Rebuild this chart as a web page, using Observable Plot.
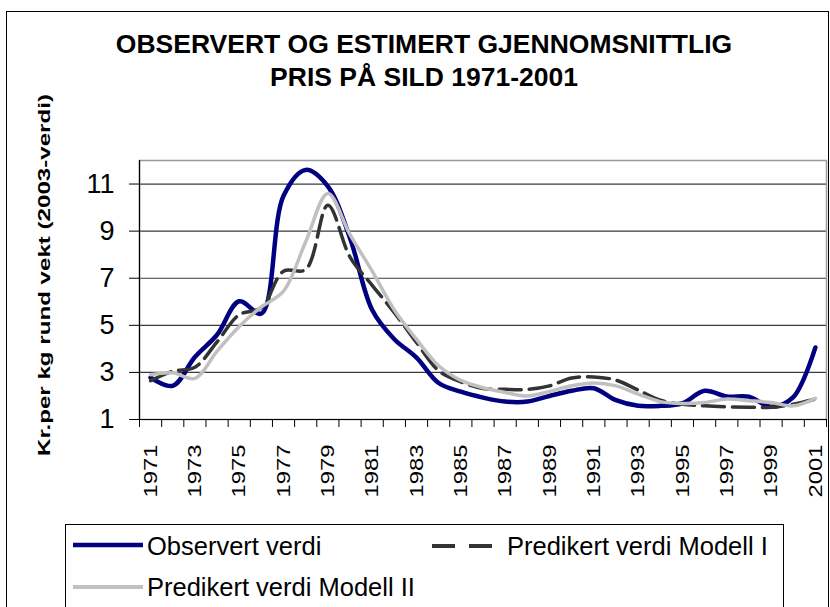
<!DOCTYPE html>
<html>
<head>
<meta charset="utf-8">
<script src="https://cdn.jsdelivr.net/npm/d3@7"></script>
<script src="https://cdn.jsdelivr.net/npm/@observablehq/plot@0.6"></script>
<style>
  html, body { margin: 0; padding: 0; background: #fff; }
  #chart { position: relative; width: 830px; height: 607px; overflow: hidden; background: #fff;
           font-family: "Liberation Sans", Arial, sans-serif; }
  #plot { position: absolute; left: 0; top: 0; }
  #overlay { position: absolute; left: 0; top: 0; pointer-events: none; }
</style>
</head>
<body>
<div id="chart">
  <div id="plot"></div>
  <svg id="overlay" width="830" height="607"></svg>
</div>
<script>
// ---------- data ----------
const years = [1971,1972,1973,1974,1975,1976,1977,1978,1979,1980,
               1981,1982,1983,1984,1985,1986,1987,1988,1989,1990,
               1991,1992,1993,1994,1995,1996,1997,1998,1999,2000,2001];
const observed = [2.78,2.43,3.65,4.60,6.02,5.50,10.50,11.60,10.90,8.70,
                  5.65,4.41,3.63,2.55,2.18,1.93,1.76,1.76,2.00,2.22,
                  2.33,1.82,1.58,1.58,1.69,2.22,1.98,1.97,1.54,1.95,4.06];
const modelI   = [2.65,3.05,3.22,4.30,5.45,5.75,7.30,7.37,10.10,7.90,
                  6.70,5.54,4.27,3.07,2.60,2.32,2.28,2.28,2.43,2.76,
                  2.81,2.67,2.25,1.82,1.65,1.58,1.54,1.52,1.52,1.65,1.87];
const modelII  = [2.90,2.98,2.75,3.90,4.95,5.78,6.45,8.55,10.60,8.85,
                  7.30,5.65,4.40,3.28,2.66,2.35,2.15,2.00,2.19,2.43,
                  2.55,2.43,2.08,1.76,1.68,1.72,1.87,1.80,1.72,1.58,1.90];
const yTicks = [1,3,5,7,9,11];
const yDomain = [1,12];
const xLabelYears = [1971,1973,1975,1977,1979,1981,1983,1985,1987,1989,1991,1993,1995,1997,1999,2001];
const titleLines = ["OBSERVERT OG ESTIMERT GJENNOMSNITTLIG", "PRIS PÅ SILD 1971-2001"];
const yLabel = "Kr.per kg rund vekt (2003-verdi)";
const legendLabels = ["Observert verdi", "Predikert verdi Modell I", "Predikert verdi Modell II"];
const seriesColors = ["#000080", "#333333", "#c0c0c0"];

// ---------- table ----------
const rows = years.map((year, i) => ({year, obs: observed[i], m1: modelI[i], m2: modelII[i]}));
const boundaries = [...years.map(y => y - 0.5), years[years.length - 1] + 0.5];

const FONT = "'Liberation Sans', Arial, sans-serif";

const chart = Plot.plot({
  width: 830,
  height: 520,
  marginTop: 160,
  marginLeft: 139,
  marginRight: 4,
  marginBottom: 101,
  style: {fontFamily: FONT, background: "transparent", color: "#000"},
  x: {type: "linear", domain: [boundaries[0], boundaries[boundaries.length - 1]]},
  y: {domain: yDomain},
  marks: [
    Plot.gridY(yTicks, {stroke: "#3a3a3a", strokeOpacity: 1, strokeWidth: 1.2}),
    Plot.frame({stroke: "#999", strokeWidth: 1.5}),
    Plot.ruleX([boundaries[0]], {stroke: "#000", strokeWidth: 1.2}),
    Plot.ruleY([yDomain[0]], {stroke: "#000", strokeWidth: 1.2}),
    Plot.axisY(yTicks, {tickSize: 10, tickPadding: 15, fontSize: 27, label: null}),
    Plot.axisX(boundaries, {tickSize: 8, tickFormat: () => "", label: null}),
    Plot.axisX(xLabelYears, {tickSize: 0, tickRotate: -90, tickPadding: 25, fontSize: 19, label: null, tickFormat: d => String(d)}),
    Plot.line(rows, {x: "year", y: "obs", stroke: seriesColors[0], strokeWidth: 4.5, curve: "catmull-rom"}),
    Plot.line(rows, {x: "year", y: "m1", stroke: seriesColors[1], strokeWidth: 3.5, strokeDasharray: "22,8", curve: "catmull-rom"}),
    Plot.line(rows, {x: "year", y: "m2", stroke: seriesColors[2], strokeWidth: 3.5, curve: "catmull-rom"}),
    Plot.text([yLabel], {frameAnchor: "left", rotate: -90, dx: -95, dy: -15, fontSize: 17, fontWeight: "bold", textAnchor: "middle"})
  ]
});
document.getElementById("plot").appendChild(chart);

// stretch rotated labels along their length, as in the reference
const labelSet = new Set(xLabelYears.map(String));
chart.querySelectorAll("text").forEach(t => {
  const s = t.textContent;
  if (labelSet.has(s)) { t.setAttribute("textLength", 53); t.setAttribute("lengthAdjust", "spacingAndGlyphs"); }
  if (s === yLabel) {
    const tr = t.getAttribute("transform") || "";
    t.setAttribute("transform", tr + " scale(1.42,1)");
  }
});

// ---------- overlay: frame, title, legend ----------
const ov = d3.select("#overlay");
ov.append("rect").attr("x", 6.5).attr("y", 11.5).attr("width", 822).attr("height", 700)
  .attr("fill", "none").attr("stroke", "#000").attr("stroke-width", 1);

ov.selectAll("text.title").data(titleLines).join("text")
  .attr("class", "title")
  .attr("x", 424).attr("y", (d, i) => 53 + i * 32.5)
  .attr("text-anchor", "middle")
  .style("font-family", FONT).style("font-weight", "bold").style("font-size", "26.5px")
  .text(d => d);

const lg = ov.append("g");
lg.append("rect").attr("x", 65.5).attr("y", 524.5).attr("width", 718).attr("height", 120)
  .attr("fill", "#fff").attr("stroke", "#000").attr("stroke-width", 1);
const legendPos = [
  {x1: 73, x2: 143, y: 545, tx: 147, ty: 555, dash: null, w: 4.5},
  {x1: 432, x2: 492, y: 546, tx: 507, ty: 555, dash: "23,14", w: 4},
  {x1: 73, x2: 143, y: 587, tx: 147, ty: 596, dash: null, w: 4}
];
legendLabels.forEach((lab, i) => {
  const p = legendPos[i];
  lg.append("line").attr("x1", p.x1).attr("x2", p.x2).attr("y1", p.y).attr("y2", p.y)
    .attr("stroke", seriesColors[i]).attr("stroke-width", p.w)
    .attr("stroke-dasharray", p.dash);
  lg.append("text").attr("x", p.tx).attr("y", p.ty)
    .style("font-family", FONT).style("font-size", "25.5px").attr("fill", "#000")
    .text(lab);
});
</script>
</body>
</html>
